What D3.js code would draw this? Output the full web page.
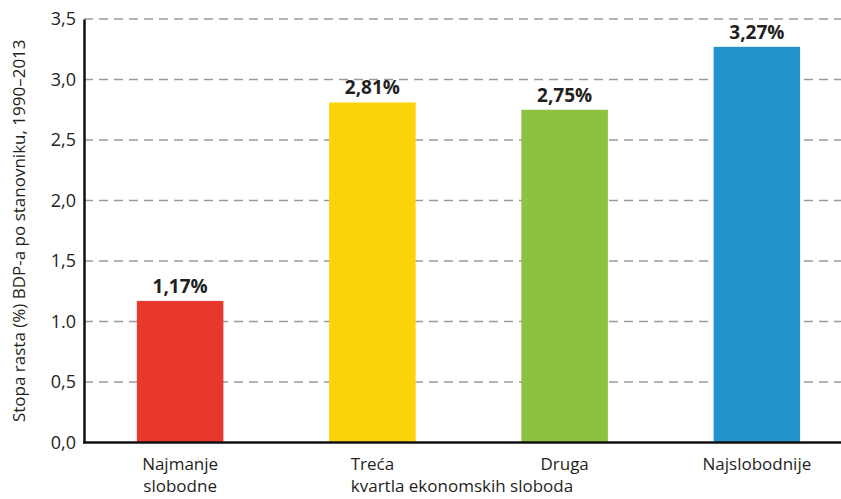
<!DOCTYPE html>
<html>
<head>
<meta charset="utf-8">
<script src="https://cdn.jsdelivr.net/npm/d3@7"></script>
<style>
  body { margin: 0; background: #fff; }
  text { font-family: "Open Sans", "Noto Sans", sans-serif; fill: #231f20; }
</style>
</head>
<body>
<div id="chart"></div>
<script>
// podaci
const categories = ["Najmanje slobodne", "Treća", "Druga", "Najslobodnije"];
const catLines = [["Najmanje", "slobodne"], ["Treća"], ["Druga"], ["Najslobodnije"]];
const values = [1.17, 2.81, 2.75, 3.27];
const valueLabels = ["1,17%", "2,81%", "2,75%", "3,27%"];
const tickValues = [0, 0.5, 1, 1.5, 2, 2.5, 3, 3.5];
const tickLabels = ["0,0", "0,5", "1.0", "1,5", "2,0", "2,5", "3,0", "3,5"];
const colors = ["#e8382b", "#fcd20a", "#8dc13f", "#2293cc"];

const width = 841, height = 499;
const margin = { top: 19, right: 0, bottom: 56, left: 84 };

const svg = d3.select("#chart").append("svg")
  .attr("width", width)
  .attr("height", height);

const y = d3.scaleLinear()
  .domain([0, 3.5])
  .range([height - margin.bottom - 0.5, margin.top]);

const x = d3.scaleBand()
  .domain(categories)
  .range([margin.left, 853])
  .paddingInner(0.55)
  .paddingOuter(0.275);

// mreža
svg.append("g")
  .selectAll("line")
  .data(tickValues.filter(d => d > 0))
  .join("line")
  .attr("x1", margin.left)
  .attr("x2", width)
  .attr("y1", d => y(d))
  .attr("y2", d => y(d))
  .attr("stroke", "#9a9a9a")
  .attr("stroke-width", 1.5)
  .attr("stroke-dasharray", "9,6");

// stupci
svg.append("g")
  .selectAll("rect")
  .data(values)
  .join("rect")
  .attr("x", (d, i) => x(categories[i]))
  .attr("y", d => y(d))
  .attr("width", x.bandwidth())
  .attr("height", d => y(0) - y(d))
  .attr("fill", (d, i) => colors[i]);

// oznake vrijednosti
svg.append("g")
  .selectAll("text")
  .data(values)
  .join("text")
  .attr("x", (d, i) => x(categories[i]) + x.bandwidth() / 2)
  .attr("y", d => y(d) - 8)
  .attr("text-anchor", "middle")
  .style("font-size", "19px")
  .style("font-weight", "bold")
  .text((d, i) => valueLabels[i]);

// os Y
const yAxis = svg.append("g")
  .attr("transform", `translate(${margin.left},0)`)
  .call(d3.axisLeft(y).tickValues(tickValues).tickSize(0).tickPadding(8)
    .tickFormat((d, i) => tickLabels[i]));
yAxis.select(".domain").attr("stroke", "#111").attr("stroke-width", 2.5);
yAxis.selectAll("text")
  .style("font-size", "18px")
  .style("font-family", "'Open Sans', sans-serif")
  .attr("fill", "#231f20");

// os X
svg.append("line")
  .attr("x1", margin.left - 1)
  .attr("x2", width)
  .attr("y1", y(0))
  .attr("y2", y(0))
  .attr("stroke", "#111")
  .attr("stroke-width", 2.5);

const xl = svg.append("g");
catLines.forEach((lines, i) => {
  lines.forEach((l, j) => {
    xl.append("text")
      .attr("x", x(categories[i]) + x.bandwidth() / 2)
      .attr("y", y(0) + 27 + j * 22)
      .attr("text-anchor", "middle")
      .style("font-size", "17px")
      .text(l);
  });
});

// naslov osi X
svg.append("text")
  .attr("x", 462)
  .attr("y", 492)
  .attr("text-anchor", "middle")
  .style("font-size", "17px")
  .text("kvartla ekonomskih sloboda");

// naslov osi Y
svg.append("text")
  .attr("transform", `translate(25,${(margin.top + y(0)) / 2}) rotate(-90)`)
  .attr("text-anchor", "middle")
  .style("font-size", "17px")
  .text("Stopa rasta (%) BDP-a po stanovniku, 1990–2013");
</script>
</body>
</html>
